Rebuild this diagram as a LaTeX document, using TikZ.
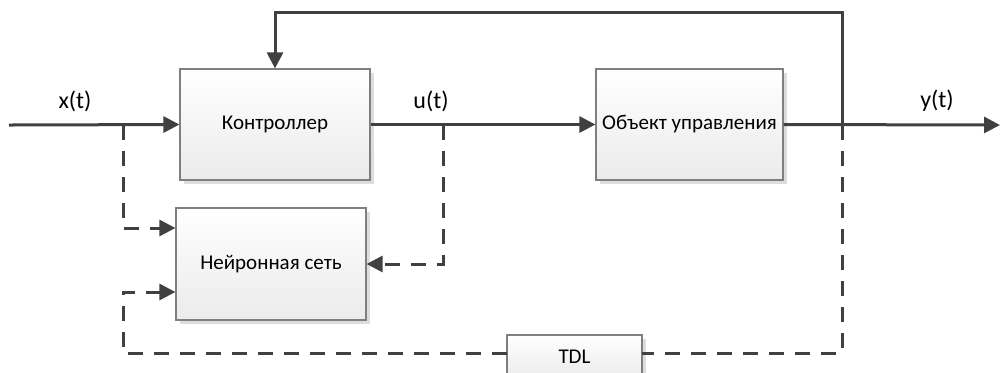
\documentclass[tikz,border=0pt]{standalone}
\usepackage{fontspec}
\setmainfont{Carlito}
\usetikzlibrary{arrows.meta,shadows}
\definecolor{linegray}{HTML}{404040}
\definecolor{boxedge}{HTML}{7F7F7F}
\definecolor{shadowgray}{HTML}{DDDDDD}
\begin{document}
\begin{tikzpicture}[x=0.5pt,y=-0.5pt,
  block/.style={draw=boxedge, line width=0.6pt, top color=white, bottom color=black!8,
    inner sep=0pt, font=\fontsize{10.5}{12}\selectfont,
    drop shadow={shadow xshift=2pt, shadow yshift=-2pt, fill=shadowgray, opacity=1}},
  wire/.style={draw=linegray, line width=1.5pt},
  sig/.style={wire, -{Triangle[length=8pt,width=8pt]}},
  dline/.style={wire, dash pattern=on 7.5pt off 5.5pt},
  dsig/.style={dline, -{Triangle[length=8pt,width=8pt]}},
  lbl/.style={font=\fontsize{12}{14}\selectfont, inner sep=0pt}]
\useasboundingbox (0,0) rectangle (1000,372);

% blocks
\node[block, minimum width=95pt, minimum height=55.5pt] (ctrl) at (275,124.5) {Контроллер};
\node[block, minimum width=93.5pt, minimum height=55.5pt] (obj) at (689.5,124.5) {Объект управления};
\node[block, minimum width=95pt, minimum height=56pt] (nn) at (271,264) {Нейронная сеть};
\node[block, minimum width=67.5pt, minimum height=22pt] (tdl) at (574.5,357) {TDL};

% branch points and corners
\coordinate (in) at (9,125);
\coordinate (out) at (1000,125);
\coordinate (jx) at (123,125);
\coordinate (ju) at (443,125);
\coordinate (jy) at (842,125);
\coordinate (fbtop) at (842,12);
\coordinate (jb) at (123,292);
\coordinate (tdlin) at (642,353);
\coordinate (tdlout) at (507,353);

% main signal path
\draw[sig] (in) -- (ctrl.west);
\draw[sig] (ctrl.east) -- (obj.west);
\draw[sig] (obj.east) -- (out);
\draw[sig] (jy) -- (fbtop) -| (ctrl.north);

% training paths of the neural network
\draw[dsig] (jx) |- ([yshift=18pt]nn.west);
\draw[dsig] (ju) |- (nn.east);
\draw[dline] (jy) |- (tdlin);
\draw[dsig] (tdlout) -| (jb) -- ([yshift=-14pt]nn.west);

% signal labels
\node[lbl] (lx) at (75,101) {x(t)};
\node[lbl] (lu) at (431,101) {u(t)};
\node[lbl] (ly) at (937,101) {y(t)};
\end{tikzpicture}
\end{document}
